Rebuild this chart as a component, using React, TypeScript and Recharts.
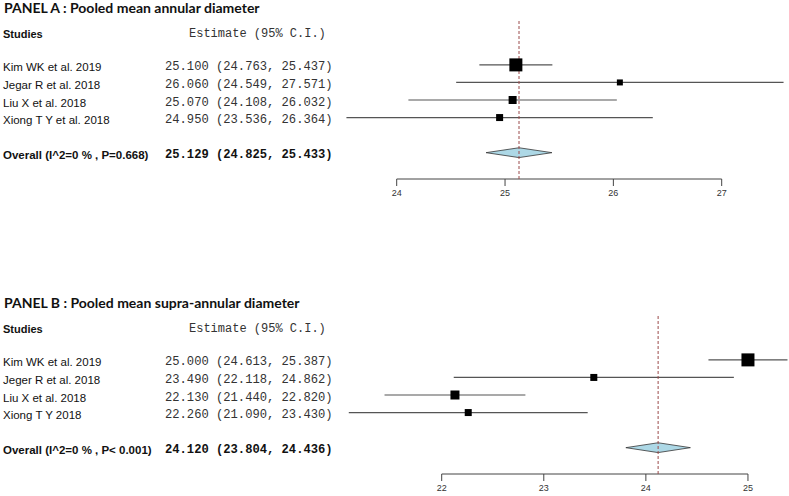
import React from "react";
import {
  Area,
  ComposedChart,
  ReferenceLine,
  Scatter,
  XAxis,
  YAxis,
} from "recharts";

// panel A : annular diameter
const studiesA = ["Kim WK et al. 2019", "Jegar R et al. 2018", "Liu X et al. 2018", "Xiong T Y et al. 2018"];
const estA = [25.1, 26.06, 25.07, 24.95];
const loA = [24.763, 24.549, 24.108, 23.536];
const hiA = [25.437, 27.571, 26.032, 26.364];
const overallA = { label: "Overall (I^2=0 % , P=0.668)", est: 25.129, lo: 24.825, hi: 25.433 };
const ticksA = [24, 25, 26, 27];

// panel B : supra-annular diameter
const studiesB = ["Kim WK et al. 2019", "Jeger R et al. 2018", "Liu X et al. 2018", "Xiong T Y 2018"];
const estB = [25.0, 23.49, 22.13, 22.26];
const loB = [24.613, 22.118, 21.44, 21.09];
const hiB = [25.387, 24.862, 22.82, 23.43];
const overallB = { label: "Overall (I^2=0 % , P< 0.001)", est: 24.12, lo: 23.804, hi: 24.436 };
const ticksB = [22, 23, 24, 25];

const W = 789;
const H = 248;
const PLOT_TOP = 21;
const PLOT_H = 158;
const Y_DOMAIN: [number, number] = [-1.5, 7.5];
const OVERALL_ROW = 6;

const fmt = (v: number) => v.toFixed(3);

type PanelProps = {
  top: number;
  title: string;
  studies: string[];
  est: number[];
  lo: number[];
  hi: number[];
  overall: { label: string; est: number; lo: number; hi: number };
  ticks: number[];
  xDomain: [number, number];
  left: number;
  right: number;
  boxSizes: number[];
};

function Panel({ top, title, studies, est, lo, hi, overall, ticks, xDomain, left, right, boxSizes }: PanelProps) {
  const rows = studies.map((s, i) => ({ study: s, x: est[i], y: i + 1, lo: lo[i], hi: hi[i] }));
  const rowY = (r: number) => PLOT_TOP + ((r - Y_DOMAIN[0]) / (Y_DOMAIN[1] - Y_DOMAIN[0])) * PLOT_H;
  const dh = 0.28;
  const diamond = [
    { x: overall.lo, band: [OVERALL_ROW, OVERALL_ROW] },
    { x: overall.est, band: [OVERALL_ROW - dh, OVERALL_ROW + dh] },
    { x: overall.hi, band: [OVERALL_ROW, OVERALL_ROW] },
  ];

  const txt = (r: number, x: number, s: string, style: React.CSSProperties, key?: string) => (
    <div
      key={key}
      style={{ position: "absolute", left: x, top: rowY(r) - 7 + 2.5, height: 14, lineHeight: "14px", whiteSpace: "pre", ...style }}
    >
      {s}
    </div>
  );

  const nameFont: React.CSSProperties = { fontFamily: "'Liberation Sans', Arial, sans-serif", fontSize: 11.5, color: "#111" };
  const monoFont: React.CSSProperties = { fontFamily: "'Liberation Mono', 'Courier New', monospace", fontSize: 12.15, color: "#333" };

  return (
    <div style={{ position: "absolute", left: 0, top, width: W, height: H }}>
      <div
        style={{
          position: "absolute",
          left: 4,
          top: rowY(-2.25) - 9,
          fontFamily: "Lato, 'Open Sans', sans-serif",
          fontWeight: 700,
          fontSize: 14,
          lineHeight: "17px",
          color: "#111",
        }}
      >
        {title}
      </div>
      {txt(-0.9, 3, "Studies", { ...nameFont, fontWeight: 700, fontSize: 11 })}
      {txt(-0.9, 189, "Estimate (95% C.I.)", { ...monoFont, fontSize: 12 })}
      {rows.map((d, i) =>
        txt(d.y, 3, d.study, nameFont, "n" + i)
      )}
      {rows.map((d, i) =>
        txt(d.y, 165, `${fmt(d.x)} (${fmt(d.lo)}, ${fmt(d.hi)})`, monoFont, "v" + i)
      )}
      {txt(OVERALL_ROW, 3, overall.label, { ...nameFont, fontWeight: 700 })}
      {txt(OVERALL_ROW, 165, `${fmt(overall.est)} (${fmt(overall.lo)}, ${fmt(overall.hi)})`, {
        ...monoFont,
        fontWeight: 700,
        color: "#111",
      })}

      <div style={{ position: "absolute", left: 0, top: 0 }}>
        <ComposedChart width={W} height={H} margin={{ top: PLOT_TOP, right, left, bottom: H - PLOT_TOP - PLOT_H - 30 }}>
          <XAxis
            type="number"
            dataKey="x"
            domain={xDomain}
            allowDataOverflow
            ticks={ticks}
            axisLine={false}
            tickLine={{ stroke: "#444" }}
            tickSize={7}
            tickMargin={4}
            height={30}
            tick={{ fontSize: 9, fill: "#333", fontFamily: "'Liberation Sans', Arial, sans-serif" }}
          />
          <YAxis type="number" dataKey="y" domain={Y_DOMAIN} reversed hide allowDataOverflow />
          <ReferenceLine
            segment={[{ x: ticks[0], y: Y_DOMAIN[1] }, { x: ticks[ticks.length - 1], y: Y_DOMAIN[1] }]}
            stroke="#444"
            strokeWidth={1}
          />
          {rows.map((d, i) => (
            <ReferenceLine
              key={"ci" + i}
              segment={[{ x: d.lo, y: d.y }, { x: d.hi, y: d.y }]}
              stroke="#555"
              strokeWidth={1.2}
            />
          ))}
          <Area
            data={diamond}
            dataKey="band"
            type="linear"
            fill="#add8e6"
            fillOpacity={1}
            stroke="#333"
            strokeWidth={0.8}
            isAnimationActive={false}
            dot={false}
            activeDot={false}
          />
          <ReferenceLine x={overall.est} stroke="#9a4a4a" strokeDasharray="3 2" strokeWidth={1} />
          <Scatter
            data={rows}
            isAnimationActive={false}
            shape={(p: any) => {
              const i = studies.indexOf(p.payload.study);
              const s = boxSizes[i];
              return <rect x={p.cx - s / 2} y={p.cy - s / 2} width={s} height={s} fill="#000" />;
            }}
          />
        </ComposedChart>
      </div>
    </div>
  );
}

export default function App() {
  return (
    <div style={{ position: "absolute", left: 0, top: 0, width: W, height: 496, background: "#fff", overflow: "hidden" }}>
      <Panel
        top={0}
        title="PANEL A : Pooled mean annular diameter"
        studies={studiesA}
        est={estA}
        lo={loA}
        hi={hiA}
        overall={overallA}
        ticks={ticksA}
        xDomain={[23.4, 27.6]}
        left={331.7}
        right={2.3}
        boxSizes={[13, 6, 8, 7]}
      />
      <Panel
        top={295}
        title="PANEL B : Pooled mean supra-annular diameter"
        studies={studiesB}
        est={estB}
        lo={loB}
        hi={hiB}
        overall={overallB}
        ticks={ticksB}
        xDomain={[21.0, 25.4]}
        left={339.6}
        right={0.2}
        boxSizes={[13, 7, 9, 7]}
      />
    </div>
  );
}
